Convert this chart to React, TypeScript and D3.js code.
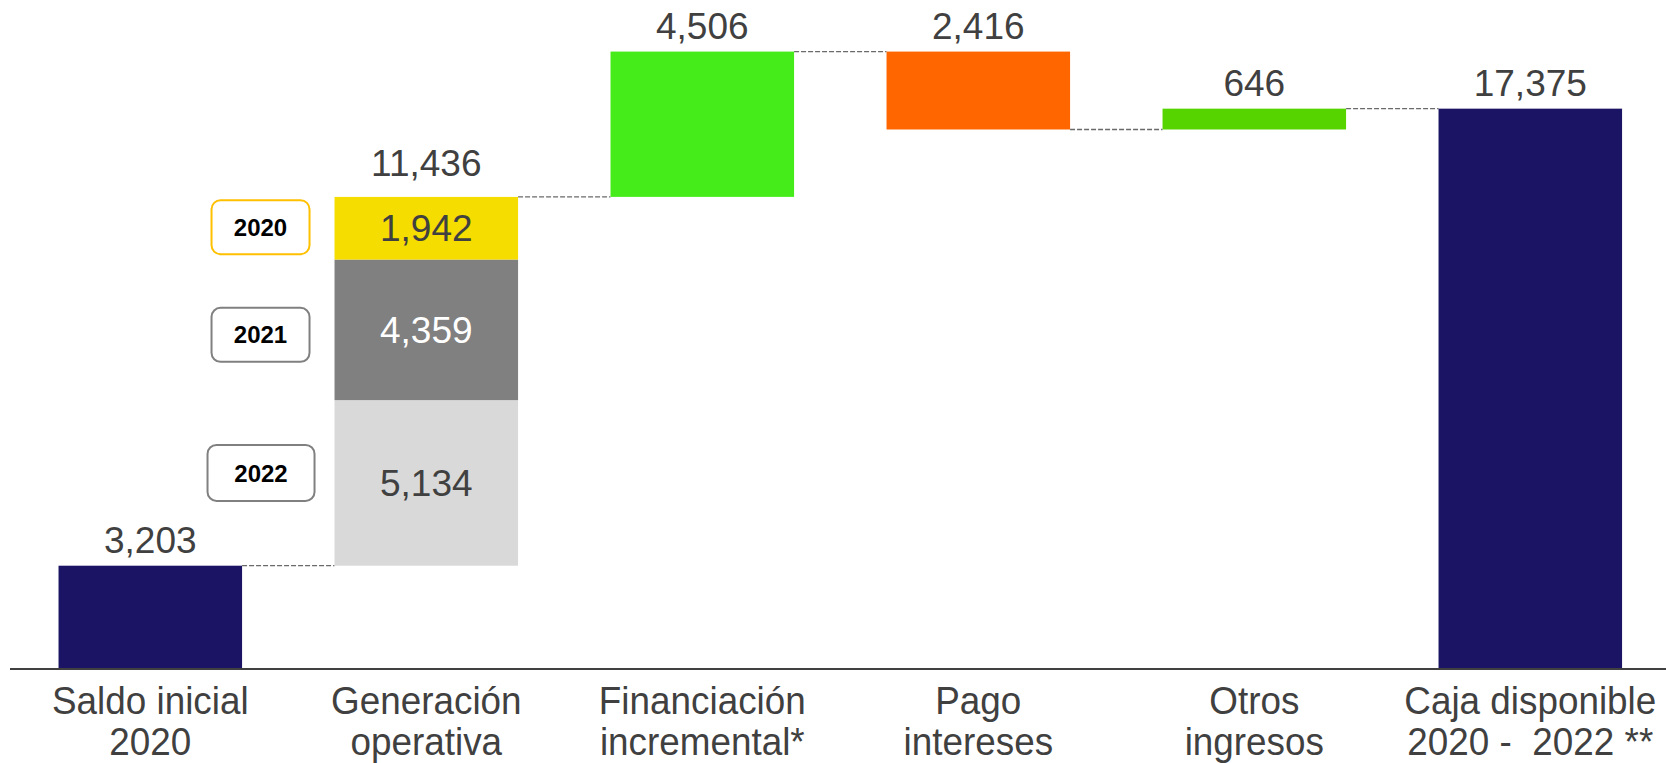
import React from "react";
import * as d3 from "d3";

const categories: string[][] = [
  ["Saldo inicial", "2020"],
  ["Generación", "operativa"],
  ["Financiación", "incremental*"],
  ["Pago", "intereses"],
  ["Otros", "ingresos"],
  ["Caja disponible", "2020 -  2022 **"],
];
// kind: total (from zero), stack (stacked increase), delta (change of running sum)
const stepKinds = ["total", "stack", "delta", "delta", "delta", "total"];
const stepValues = [3203, 11436, 4506, -2416, 646, 17375];
const stepColors = ["#1B1464", "", "#45EC19", "#FF6600", "#55D400", "#1B1464"];

// stacked components of "Generación operativa", bottom to top
const genYears = ["2022", "2021", "2020"];
const genValues = [5134, 4359, 1942];
const genColors = ["#D9D9D9", "#808080", "#F5DD00"];
const genTextColors = ["#404040", "#FFFFFF", "#404040"];
const genBoxStroke = ["#808080", "#808080", "#FFC000"];

const W = 1666;
const H = 763;
const FONT = "'Liberation Sans', Arial, sans-serif";
const fmt = d3.format(",");

export default function App() {
  const x = d3
    .scaleBand<number>()
    .domain(d3.range(categories.length))
    .range([12.3, 1668.3])
    .paddingInner(0.335)
    .paddingOuter(0.1675);
  const y = d3.scaleLinear().domain([0, 20000]).range([669, 24]);

  let run = 0;
  const bars = stepValues.map((v, i) => {
    let lo: number, hi: number;
    if (stepKinds[i] === "total") {
      lo = 0;
      hi = v;
      run = v;
    } else {
      const prev = run;
      run = prev + v;
      lo = Math.min(prev, run);
      hi = Math.max(prev, run);
    }
    return { i, v, lo, hi, end: run };
  });

  const bw = x.bandwidth();

  let acc = bars[1].lo;
  const segs = genValues.map((v, k) => {
    const s = { k, lo: acc, hi: acc + v, v };
    acc += v;
    return s;
  });

  const boxW = (k: number) => (k === 0 ? 107 : 98);
  const boxH = (k: number) => (k === 0 ? 56 : 54);
  const boxDy = (k: number) => (k === 0 ? -10 : k === 1 ? 5 : -1);
  const boxGap = (k: number) => (k === 0 ? 20 : 25);

  return (
    <svg
      width={W}
      height={H}
      style={{ position: "absolute", left: 0, top: 0, background: "#fff" }}
      fontFamily={FONT}
    >
      {bars.slice(0, -1).map((b, i) => {
        const x1 = (x(i) as number) + bw;
        const x2 = x(i + 1) as number;
        const yy = y(b.end);
        return (
          <line
            key={"c" + i}
            x1={x1}
            x2={x2}
            y1={yy}
            y2={yy}
            stroke="#6a6a6a"
            strokeWidth={1.3}
            strokeDasharray="5,2"
          />
        );
      })}

      {bars.map((b) =>
        stepKinds[b.i] === "stack" ? null : (
          <rect
            key={"b" + b.i}
            x={x(b.i)}
            y={y(b.hi)}
            width={bw}
            height={y(b.lo) - y(b.hi)}
            fill={stepColors[b.i]}
          />
        )
      )}

      {segs.map((s) => {
        const cy = (y(s.hi) + y(s.lo)) / 2;
        const bx = (x(1) as number) - boxGap(s.k) - boxW(s.k);
        const by = cy + boxDy(s.k);
        return (
          <g key={"s" + s.k}>
            <rect x={x(1)} y={y(s.hi)} width={bw} height={y(s.lo) - y(s.hi)} fill={genColors[s.k]} />
            <text
              x={(x(1) as number) + bw / 2}
              y={cy}
              dy="0.35em"
              textAnchor="middle"
              fontSize={37}
              fill={genTextColors[s.k]}
            >
              {fmt(s.v)}
            </text>
            <rect
              x={bx}
              y={by - boxH(s.k) / 2}
              width={boxW(s.k)}
              height={boxH(s.k)}
              rx={9}
              fill="#fff"
              stroke={genBoxStroke[s.k]}
              strokeWidth={2}
            />
            <text
              x={bx + boxW(s.k) / 2}
              y={by}
              dy="0.36em"
              textAnchor="middle"
              fontSize={24}
              fontWeight="bold"
              fill="#000"
            >
              {genYears[s.k]}
            </text>
          </g>
        );
      })}

      {bars.map((b) => (
        <text
          key={"v" + b.i}
          x={(x(b.i) as number) + bw / 2}
          y={y(b.hi) - (stepKinds[b.i] === "stack" ? 21 : 13)}
          textAnchor="middle"
          fontSize={37}
          fill="#404040"
        >
          {fmt(Math.abs(b.v))}
        </text>
      ))}

      <line x1={10} x2={W} y1={y(0)} y2={y(0)} stroke="#404040" strokeWidth={2} />

      {categories.map((c, i) => {
        const cx = (x(i) as number) + bw / 2;
        return (
          <g key={"k" + i} transform={`translate(${cx},${y(0)}) scale(0.97,1)`}>
            <text
              x={0}
              y={45}
              textAnchor="middle"
              fontSize={38}
              fill="#404040"
              style={{ whiteSpace: "pre" }}
            >
              {c.map((line, j) => (
                <tspan key={j} x={0} dy={j === 0 ? 0 : 41}>
                  {line}
                </tspan>
              ))}
            </text>
          </g>
        );
      })}
    </svg>
  );
}
